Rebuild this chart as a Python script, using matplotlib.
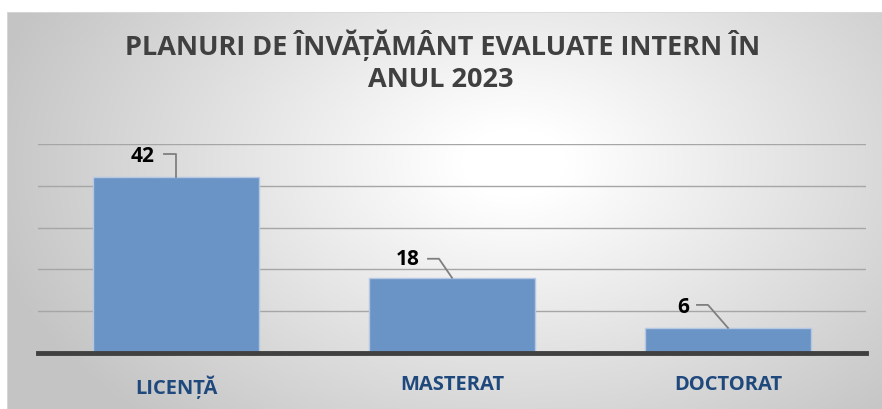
import numpy as np
import matplotlib
matplotlib.use("Agg")
import matplotlib.pyplot as plt
from matplotlib import font_manager as fm

title_lines = ["PLANURI DE ÎNVĂȚĂMÂNT EVALUATE INTERN ÎN", "ANUL 2023"]
categories = ["LICENȚĂ", "MASTERAT", "DOCTORAT"]
values = [42, 18, 6]


def has_bold(name):
    for f in fm.fontManager.ttflist:
        if f.name == name:
            w = f.weight
            if isinstance(w, str):
                if w in ("bold", "heavy", "black", "extra bold", "demibold", "semibold"):
                    return True
            elif w >= 600:
                return True
    return False


cands = ["Liberation Sans Narrow", "Open Sans", "Lato", "Roboto", "Noto Sans", "DejaVu Sans"]
main = next((c for c in cands if has_bold(c)), "DejaVu Sans")
fam = [main, "DejaVu Sans"]

W, H = 882, 409
fig = plt.figure(figsize=(W / 100, H / 100), dpi=100)
fig.patch.set_facecolor("white")

bg = fig.add_axes([7 / W, 0, 1 - 7 / W, 1 - 12 / H])
yy, xx = np.mgrid[0:1:300j, 0:1:600j]
cx, cy = 0.58, 0.38
r = np.sqrt(((xx - cx) * 1.3) ** 2 + ((yy - cy) * 0.9) ** 2)
t = np.clip((r - 0.08) / 0.72, 0, 1)
g = 1.0 - t * (1.0 - 0.77)
img = np.dstack([g, g, g])
bg.imshow(img, extent=[0, 1, 0, 1], aspect="auto", origin="upper")
bg.set_axis_off()
bg.add_line(plt.Line2D([0, 0], [0, 1], color="#d9d9d9", lw=1.2, transform=bg.transAxes))
bg.add_line(plt.Line2D([0, 1], [1, 1], color="#d9d9d9", lw=1.2, transform=bg.transAxes))

ax = fig.add_axes([38 / W, 56 / H, (866 - 38) / W, (353 - 144) / H])
ax.patch.set_alpha(0)
x = np.arange(len(categories))
ax.set_xlim(-0.5, len(categories) - 0.5)
ax.set_ylim(0, 50)
for gy in [10, 20, 30, 40, 50]:
    ax.axhline(gy, color="#a6a6a6", lw=1.0, zorder=1)
ax.bar(x, values, width=0.602, color="#6a93c6", edgecolor="#b4c8e4", linewidth=1.0, zorder=2)
ax.axhline(0, color="#404040", lw=3.5, zorder=3, clip_on=False)
for s in ax.spines.values():
    s.set_visible(False)
ax.set_yticks([])
ax.set_xticks(x)
ax.set_xticklabels(categories, family=fam, fontweight="bold", fontsize=14.5, color="#1f497d")
ax.tick_params(axis="x", length=0, pad=16)

px_x = 827 / 3.0
px_y = 209 / 50.0
label_text_off = [(-33, 21), (-44, 18), (-45, 20)]
leader_pts = [[(-12, 23), (0, 23), (0, 0)],
              [(-24, 19), (-13, 19), (0, 0)],
              [(-31, 23), (-20, 23), (0, 0)]]
for i, v in enumerate(values):
    tx, ty = label_text_off[i]
    ax.text(i + tx / px_x, v + ty / px_y, str(v), ha="center", va="center",
            family=fam, fontweight="bold", fontsize=15, color="black", zorder=4)
    pts = leader_pts[i]
    ax.plot([i + p[0] / px_x for p in pts], [v + p[1] / px_y for p in pts],
            color="#7f7f7f", lw=1.3, zorder=4, clip_on=False)

fig.text(0.5 * (128 + 758) / W, 1 - 45 / H, title_lines[0],
         ha="center", va="center", family=fam, fontweight="bold", fontsize=19.5, color="#404040")
fig.text(0.5 * (367 + 515) / W, 1 - 80 / H, title_lines[1],
         ha="center", va="center", family=fam, fontweight="bold", fontsize=19.5, color="#404040")

fig.savefig("out.png", dpi=100)
